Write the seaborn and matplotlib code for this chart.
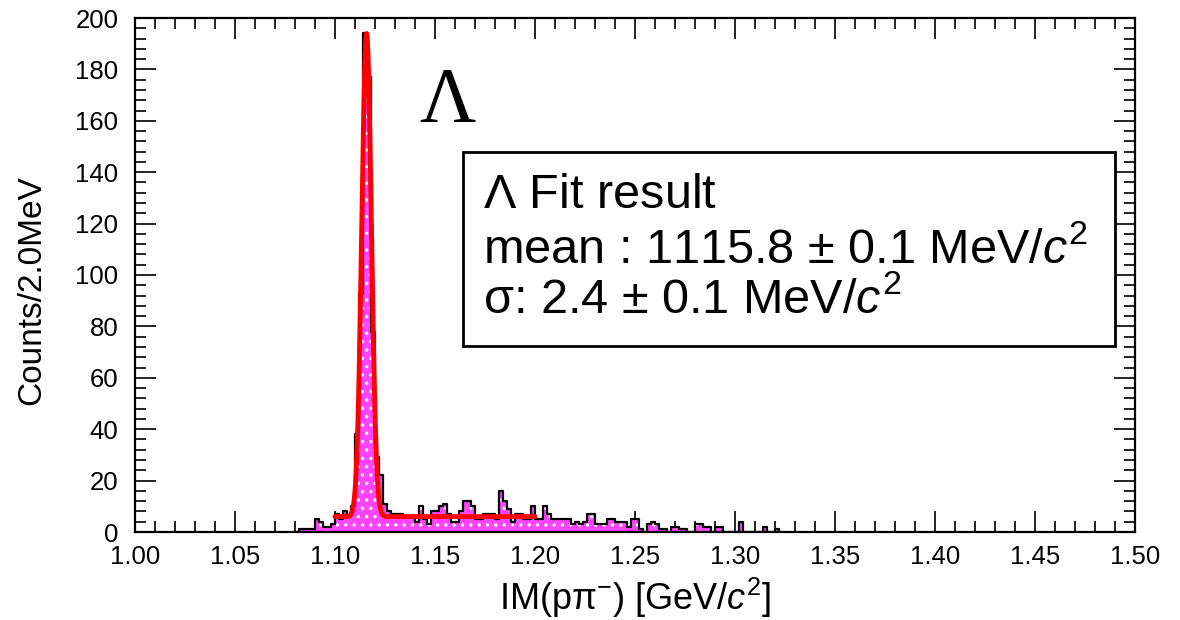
import numpy as np
import pandas as pd
import matplotlib
matplotlib.use("Agg")
import matplotlib.pyplot as plt
from matplotlib.ticker import MultipleLocator, FormatStrFormatter
import seaborn as sns

# ---------------- data ----------------
bin_start = 1.080   # GeV
bin_width = 0.002   # GeV (2 MeV)
counts = [
    0, 1, 1, 1, 1, 5, 4, 2, 2, 3,          # 1.080 - 1.098
    7, 5, 8, 6, 10, 38, 93, 194, 177, 78,  # 1.100 - 1.118
    29, 22, 11, 8, 7, 7, 7, 6, 6, 6,       # 1.120 - 1.138
    4, 10, 5, 3, 8, 8, 10, 11, 7, 4,       # 1.140 - 1.158
    4, 8, 12, 12, 10, 5, 5, 7, 7, 7,       # 1.160 - 1.178
    5, 16, 12, 9, 4, 7, 7, 5, 5, 10,       # 1.180 - 1.198
    5, 5, 10, 7, 5, 5, 5, 5, 5, 3,         # 1.200 - 1.218
    4, 3, 4, 7, 7, 3, 3, 3, 5, 5,          # 1.220 - 1.238
    4, 4, 4, 2, 5, 5, 1, 0, 3, 4,          # 1.240 - 1.258
    3, 1, 1, 0, 2, 2, 1, 1, 0, 0,          # 1.260 - 1.278
    3, 3, 2, 2, 0, 2, 2, 0, 0, 0,          # 1.280 - 1.298
    0, 4, 0, 0, 0, 0, 0, 2, 0, 0,          # 1.300 - 1.318
    1, 0,                                  # 1.320 - 1.322
]
# fit result (Gaussian + constant background), fit range
fit_mean = 1.1158     # GeV
fit_sigma = 0.0024    # GeV
fit_amp = 188.0
fit_bkg = 6.0
fit_lo, fit_hi = 1.100, 1.200

xlim = (1.00, 1.50)
ylim = (0, 200)

box_lines = [r"$\Lambda$ Fit result",
             r"mean : 1115.8 $\pm$ 0.1 MeV/$c^2$",
             r"σ: 2.4 $\pm$ 0.1 MeV/$c^2$"]

# ---------------- build ----------------
n = len(counts)
edges = bin_start + bin_width * np.arange(n + 1)
centers = 0.5 * (edges[:-1] + edges[1:])
df = pd.DataFrame({"x": centers, "w": np.asarray(counts, dtype=float)})
brange = (float(edges[0]), float(edges[-1]))

fx = np.linspace(fit_lo, fit_hi, 600)
fy = fit_amp * np.exp(-0.5 * ((fx - fit_mean) / fit_sigma) ** 2) + fit_bkg
fit_df = pd.DataFrame({"x": fx, "y": fy})

sns.set_theme(style="white")
plt.rcParams["font.family"] = ["Liberation Sans", "DejaVu Sans"]
plt.rcParams["mathtext.fontset"] = "custom"
plt.rcParams["mathtext.rm"] = "Liberation Sans"
plt.rcParams["mathtext.it"] = "Liberation Sans:italic"
plt.rcParams["hatch.color"] = "white"
plt.rcParams["hatch.linewidth"] = 1.2
for k in ["text.color", "axes.labelcolor", "xtick.color", "ytick.color",
          "xtick.labelcolor", "ytick.labelcolor"]:
    plt.rcParams[k] = "black"

fig = plt.figure(figsize=(11.8, 6.2), dpi=100)
ax = fig.add_axes([135 / 1180, 88 / 620, 1000 / 1180, 514 / 620])

# filled histogram
sns.histplot(data=df, x="x", weights="w", binwidth=bin_width, binrange=brange,
             element="step", fill=True, color="#ff33ff", alpha=1.0,
             linewidth=0, ax=ax)
poly = ax.collections[-1]
poly.set_facecolor("#ff44ff")
poly.set_edgecolor("white")
poly.set_hatch("..")
poly.set_linewidth(0)
# outline
sns.histplot(data=df, x="x", weights="w", binwidth=bin_width, binrange=brange,
             element="step", fill=False, color="black", linewidth=1.6, ax=ax)
# fit curve
sns.lineplot(data=fit_df, x="x", y="y", color="red", linewidth=3.5, ax=ax)

ax.set_xlim(*xlim)
ax.set_ylim(*ylim)
ax.xaxis.set_major_locator(MultipleLocator(0.05))
ax.xaxis.set_minor_locator(MultipleLocator(0.01))
ax.yaxis.set_major_locator(MultipleLocator(20))
ax.yaxis.set_minor_locator(MultipleLocator(4))
ax.xaxis.set_major_formatter(FormatStrFormatter("%.2f"))
ax.tick_params(which="both", direction="in", top=True, right=True,
               bottom=True, left=True, color="black", width=1.2)
ax.tick_params(which="major", length=15, labelsize=18.5)
ax.tick_params(which="minor", length=8)
ax.tick_params(axis="x", which="major", pad=9)
ax.tick_params(axis="y", which="major", pad=12)
for s in ax.spines.values():
    s.set_color("black")
    s.set_linewidth(1.6)

ax.set_xlabel(r"IM(pπ$^{-}$) [GeV/$c^2$]", fontsize=26, labelpad=5)
ax.set_ylabel("Counts/2.0MeV", fontsize=24, labelpad=20)
ax.yaxis.label.set_y(0.47)

ax.text(0.284, 0.905, "Λ", transform=ax.transAxes, fontsize=56,
        family=["Liberation Serif", "DejaVu Serif"], ha="left", va="top")

# fit result box
bx0, by0 = (463 - 135) / 1000, (532 - 346) / 514
bw, bh = (1115 - 463) / 1000, (346 - 152) / 514
ax.add_patch(plt.Rectangle((bx0, by0), bw, bh, transform=ax.transAxes,
                           fill=True, facecolor="white", edgecolor="black",
                           linewidth=2, zorder=5))
line_y = [196, 250, 300]
for t, yp in zip(box_lines, line_y):
    ax.text(0.348, (532 - yp) / 514, t, transform=ax.transAxes,
            fontsize=35, ha="left", va="center", zorder=6)

fig.savefig("out.png", dpi=100)
